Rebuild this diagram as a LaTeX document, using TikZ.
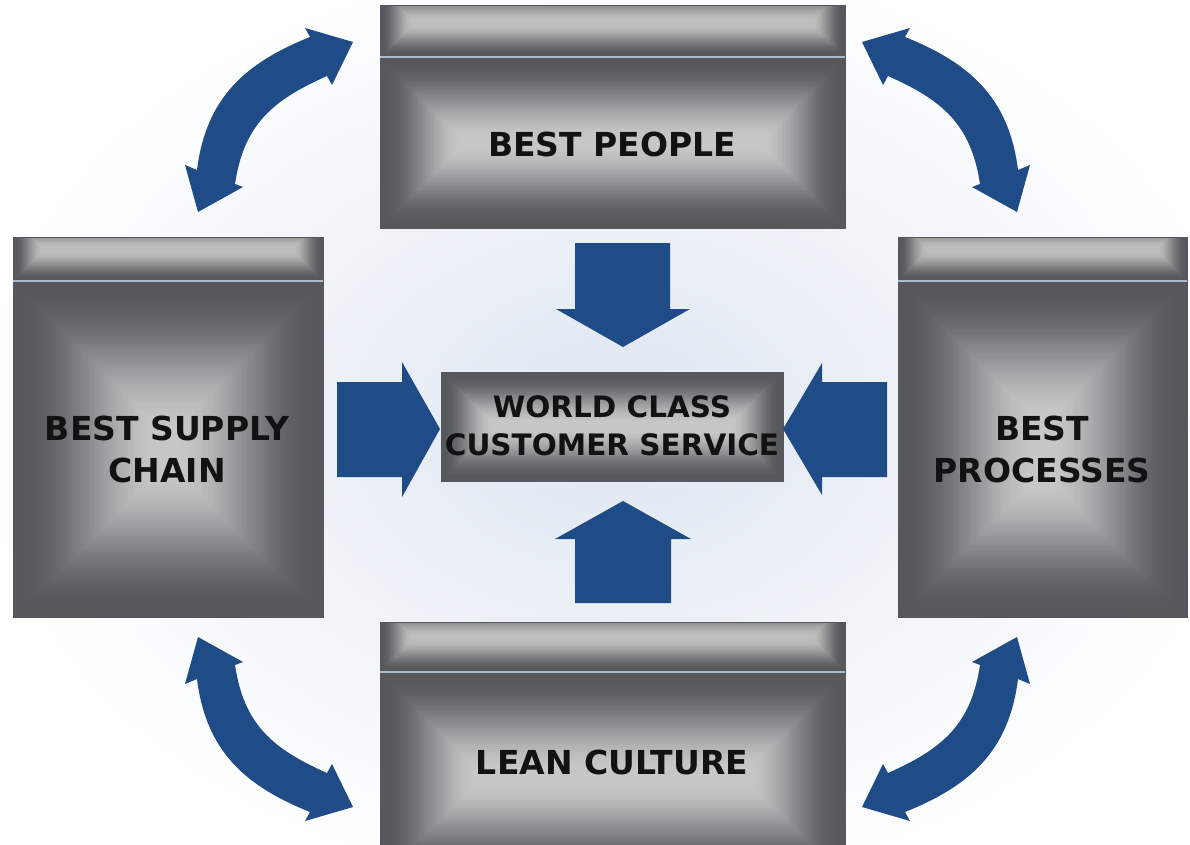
\documentclass[tikz,border=0pt]{standalone}
\usepackage{fontspec}
\newfontfamily\lblfont{DejaVu Sans}
\definecolor{boxdark}{RGB}{86,88,92}
\definecolor{boxlight}{RGB}{200,200,200}
\definecolor{hdrlight}{RGB}{190,192,188}
\definecolor{boxedge}{RGB}{82,88,98}
\definecolor{divcol}{RGB}{170,186,208}
\definecolor{arrowblue}{RGB}{31,75,135}
\definecolor{bgc}{RGB}{222,230,241}
\definecolor{lbltext}{RGB}{18,18,18}
\tikzset{
  lbl/.style={font=\lblfont\bfseries\fontsize{33}{42}\selectfont, text=lbltext, align=center, inner sep=0pt},
  clbl/.style={font=\lblfont\bfseries\fontsize{29.5}{38}\selectfont, text=lbltext, align=center, inner sep=0pt},
  boxline/.style={draw=boxedge, line width=1pt},
  divline/.style={draw=divcol, line width=2pt},
  blockarrow/.style={fill=arrowblue},
  curvearrow/.style={fill=arrowblue},
}
\newcommand\pillow[6]{%
  \foreach \i in {0,...,64}{%
    \pgfmathsetmacro\pinset{#5*\i/64}%
    \pgfmathsetmacro\uu{max(0,(\i/64-0.04)/0.96)}%
    \pgfmathtruncatemacro\ppct{100*\uu*\uu*(3-2*\uu)}%
    \fill[#6!\ppct!boxdark] ({#1+\pinset},{#2+\pinset}) rectangle ({#3-\pinset},{#4-\pinset});
  }%
}
% x1 y1 x2 y2 divider hdrinset bodyinset
\newcommand\gbox[7]{%
  \begin{scope}
    \clip (#1,#2) rectangle (#3,#5);
    \pillow{#1}{#2-18}{#3}{#5}{#6}{hdrlight}%
  \end{scope}
  \pillow{#1}{#5}{#3}{#4}{#7}{boxlight}%
  \draw[boxline] (#1,#2) rectangle (#3,#4);
  \draw[divline] (#1,#5) -- (#3,#5);
}
\newcommand\curvedarrow{%
  \fill[curvearrow] (198,212) -- (185,165) -- (197,170)
    .. controls (206,98) and (245,63) .. (310,37)
    -- (305,28) -- (353,42) -- (332,85) -- (327,76)
    .. controls (273,100) and (244,124) .. (235,184)
    -- (243,187) -- cycle;
}
\begin{document}
\begin{tikzpicture}[x=1pt,y=-1pt]
\useasboundingbox (0,0) rectangle (1190,845);
\clip (0,0) rectangle (1190,845);
\fill[white] (0,0) rectangle (1190,845);
\shade[inner color=bgc, outer color=white] (612,424) ellipse (640 and 470);

% boxes
\gbox{380}{6}{845}{228}{57}{33}{84}
\gbox{13}{237}{323}{617}{281}{30}{150}
\gbox{898}{237}{1187}{617}{281}{30}{140}
\gbox{380}{622}{845}{880}{672}{33}{100}
\pillow{441}{372}{783}{481}{53}{boxlight}
\draw[boxline] (441,372) rectangle (783,481);

% labels
\node[lbl, anchor=base] (people) at (612,157) {BEST PEOPLE};
\node[lbl] (supply) at (167,449) {BEST SUPPLY\\CHAIN};
\node[lbl] (processes) at (1042,449) {BEST\\PROCESSES};
\node[lbl, anchor=base] (lean) at (612,774) {LEAN CULTURE};
\node[clbl] (wccs) at (612,426) {WORLD CLASS\\CUSTOMER SERVICE};

% block arrows
\fill[blockarrow] (575,243) -- (670,243) -- (670,309) -- (690,309) -- (623,347) -- (556,309) -- (575,309) -- cycle;
\fill[blockarrow] (575,603) -- (671,603) -- (671,539) -- (691,539) -- (623,501) -- (555,539) -- (575,539) -- cycle;
\fill[blockarrow] (337,382) -- (402,382) -- (402,362) -- (440,429) -- (402,497) -- (402,477) -- (337,477) -- cycle;
\fill[blockarrow] (887,382) -- (822,382) -- (822,363) -- (783,429) -- (822,495) -- (822,477) -- (887,477) -- cycle;

% curved double arrows
\curvedarrow
\begin{scope}[shift={(1215,0)}, xscale=-1]\curvedarrow\end{scope}
\begin{scope}[shift={(0,849)}, yscale=-1]\curvedarrow\end{scope}
\begin{scope}[shift={(1215,849)}, xscale=-1, yscale=-1]\curvedarrow\end{scope}
\end{tikzpicture}
\end{document}
